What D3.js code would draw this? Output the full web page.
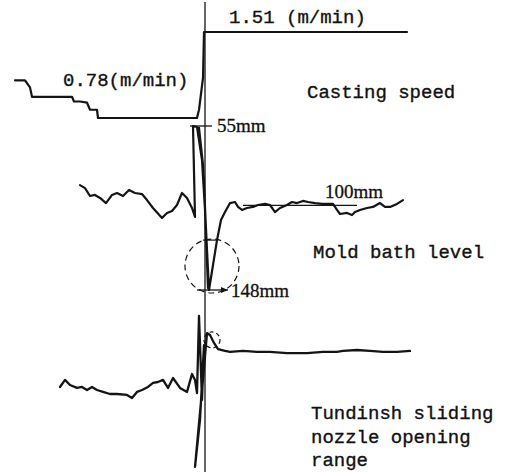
<!DOCTYPE html>
<html><head><meta charset="utf-8">
<script src="https://cdn.jsdelivr.net/npm/d3@7"></script>
<style>
html,body{margin:0;padding:0;background:#fff;}
svg{display:block;}
.lbl{font-family:"Liberation Mono","DejaVu Sans Mono",monospace;font-size:19px;fill:#111;stroke:#111;stroke-width:0.35px;}
.num{font-family:"Liberation Serif","DejaVu Serif",serif;font-size:19px;fill:#111;stroke:#111;stroke-width:0.3px;}
</style></head>
<body>
<svg id="c" width="510" height="472"></svg>
<script>
// time relative to the speed change (chart units)
const speedTime = [-95,-90,-87.5,-86.5,-66.5,-65.5,-62.5,-59,-57.5,-54,-53.5,-4,-3,-1,-0.5,101];
const speedValue = [1.10,1.10,1.04,0.96,0.96,0.92,0.92,0.91,0.85,0.85,0.78,0.78,0.85,1.12,1.51,1.51];

const moldTime = [-62.5,-60,-57.5,-55,-52.5,-49.5,-46.5,-44,-41,-38,-35,-31.5,-29,-26,-21.5,-19,-16.5,-14,-11.5,-9,-6.5,-5,
  -6,-4,-1.5,0,1.5,-0.5,-3,-1,1,2,4,6,8,10,12.5,15,16.5,18.5,21,24,26.5,30,32.5,35,37.5,41,43.5,46,49,51.5,55,58.5,64,66,67.5,71,73.5,75,77.5,81,84,87.5,90,92.5,96,99];
const moldLevel = [88.5,90.2,94.7,94.1,95.8,98.7,94.1,93.0,94.7,91.3,93.0,93.6,97.0,101.5,107.2,104.3,103.2,99.8,93.0,95.8,101.5,106.6,
  55,55.6,74.3,102.6,146.9,85.6,56.1,77.1,125.3,148,133.8,119.7,108.3,103.8,98.7,98.1,100.9,102.6,101.5,100.9,99.8,99.2,99.8,103.8,101.5,99.8,98.1,98.7,97.5,98.1,98.7,99.2,99.2,102.6,104.9,104.3,105.5,103.8,102.6,101.5,100.9,98.7,100.9,100.9,99.2,97.0];

const nozzleTime = [-72.5,-70,-67.5,-64,-61.5,-59,-56.5,-54,-51,-47.5,-44,-39,-36.5,-34,-31.5,-28.5,-26,-23.5,-21,-18.5,-16,-12.5,-9,-6.5,-5,-4,-3,-1.5,-0.5,-2.5,-5,-1,1,2.5,4.5,6.5,10,12.5,19,26,32.5,41,44,51,59,66,69,76,82.5,89,96,102.5];
const nozzleOpening = [51.9,56.3,53.1,51.3,51.9,50,51.9,50,48.8,47.5,47.5,46.9,45,48.8,50,51.9,54.4,55,56.3,51.3,57.5,51.3,48.8,60,56.3,48.1,96.3,43.8,78.1,31.3,1.9,56.3,85.6,84.4,79.4,75.6,74.4,73.8,74.4,73.8,73.8,73.1,73.1,73.1,73.8,73.8,74.4,75,74.4,73.8,73.8,74.4];

const refLevel = 100, peakLevel = 55, dipLevel = 148;
const speedLabels = ["0.78(m/min)","1.51 (m/min)"];
const seriesLabels = ["Casting speed","Mold bath level"];
const nozzleLabelLines = ["Tundinsh sliding","nozzle opening","range"];

const svg = d3.select("#c");
const x = d3.scaleLinear().domain([-100,100]).range([5,405]);
const ySpeed = d3.scaleLinear().domain([0.78,1.51]).range([118,32]);
const yMold = d3.scaleLinear().domain([55,148]).range([126,290]);
const yNoz = d3.scaleLinear().domain([0,100]).range([470,310]);
const ink = "#141414";

// central time marker
svg.append("line").attr("x1",x(0)).attr("x2",x(0)).attr("y1",2).attr("y2",472)
  .attr("stroke",ink).attr("stroke-width",1.3);

function draw(ts, vs, ys, w){
  const pts = ts.map((t,i)=>[x(t), ys(vs[i])]);
  svg.append("path").attr("d", d3.line()(pts)).attr("fill","none")
    .attr("stroke",ink).attr("stroke-width",w).attr("stroke-linejoin","round").attr("stroke-linecap","round");
}
draw(speedTime, speedValue, ySpeed, 2.2);
draw(moldTime, moldLevel, yMold, 2.2);
draw(nozzleTime, nozzleOpening, yNoz, 2.3);

// 100mm reference line
svg.append("line").attr("x1",x(19)).attr("x2",x(76)).attr("y1",yMold(refLevel)).attr("y2",yMold(refLevel))
  .attr("stroke",ink).attr("stroke-width",1.2);
// 55mm tick
svg.append("line").attr("x1",x(-7.5)).attr("x2",x(3.5)).attr("y1",yMold(peakLevel)).attr("y2",yMold(peakLevel))
  .attr("stroke",ink).attr("stroke-width",1.3);
// small tick near dip
svg.append("line").attr("x1",x(-1)).attr("x2",x(6.5)).attr("y1",yMold(119.7)).attr("y2",yMold(119.7))
  .attr("stroke",ink).attr("stroke-width",1.2);
// 148mm arrow
svg.append("line").attr("x1",x(-4)).attr("x2",x(11.5)).attr("y1",yMold(dipLevel)).attr("y2",yMold(dipLevel))
  .attr("stroke",ink).attr("stroke-width",1.3);
svg.append("path").attr("d",`M${x(11.5)},${yMold(dipLevel)} l-7,-3 l0,6 z`).attr("fill",ink);

// dashed circles
svg.append("circle").attr("cx",x(3.5)).attr("cy",yMold(134.4)).attr("r",27)
  .attr("fill","none").attr("stroke",ink).attr("stroke-width",1.2).attr("stroke-dasharray","6,4");
svg.append("circle").attr("cx",x(3.5)).attr("cy",yNoz(81.3)).attr("r",8)
  .attr("fill","none").attr("stroke",ink).attr("stroke-width",1.2).attr("stroke-dasharray","4,3");

// labels
svg.append("text").attr("class","lbl").attr("x",63).attr("y",86).text(speedLabels[0]);
svg.append("text").attr("class","lbl").attr("x",229).attr("y",23).text(speedLabels[1]);
svg.append("text").attr("class","lbl").attr("x",307).attr("y",98).text(seriesLabels[0]);
svg.append("text").attr("class","lbl").attr("x",313).attr("y",258).text(seriesLabels[1]);
nozzleLabelLines.forEach((s,i)=>{
  svg.append("text").attr("class","lbl").attr("x",311).attr("y",419+i*23.5).text(s);
});
svg.append("text").attr("class","num").attr("x",217).attr("y",132).text(peakLevel+"mm");
svg.append("text").attr("class","num").attr("x",325).attr("y",198).text(refLevel+"mm");
svg.append("text").attr("class","num").attr("x",231).attr("y",297).text(dipLevel+"mm");
</script>
</body></html>
